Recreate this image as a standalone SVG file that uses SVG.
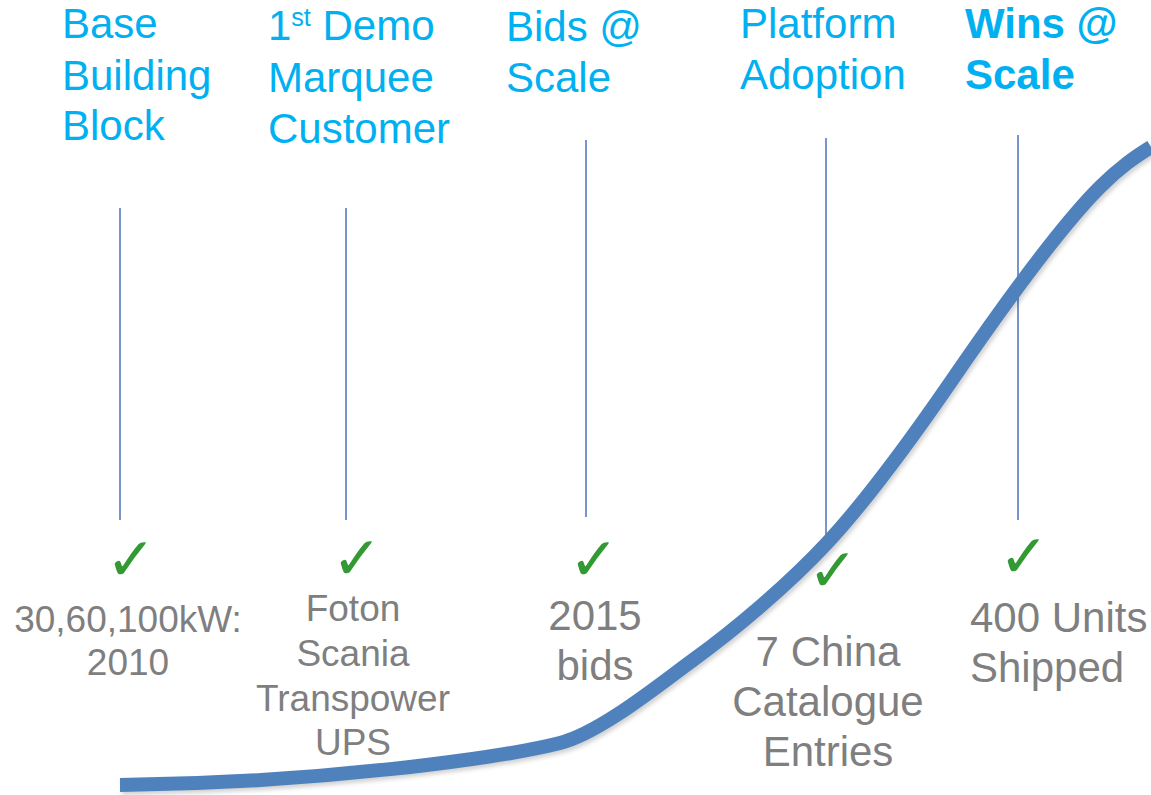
<svg xmlns="http://www.w3.org/2000/svg" width="1151" height="795" viewBox="0 0 1151 795">
<defs>
<style>
.top{font-family:"Liberation Sans",Arial,sans-serif;font-size:42px;fill:#00b0f0}
.bold{font-weight:bold}
.bot{font-family:"Liberation Sans",Arial,sans-serif;font-size:37px;fill:#7f7f7f;text-anchor:middle}
.big{font-size:42px}
.start{text-anchor:start}
.chk{font-family:"DejaVu Sans",sans-serif;font-size:60px;fill:#339933;font-weight:bold;text-anchor:middle}
.vl{stroke:#4a72b8;stroke-width:1.5;fill:none}
.curve{stroke:#4f81bd;stroke-width:14;fill:none;stroke-linecap:butt}
.shadow{stroke:#000;stroke-opacity:0.18;stroke-width:14;fill:none}
</style>
<filter id="blur" x="-5%" y="-5%" width="110%" height="110%"><feGaussianBlur stdDeviation="2"/></filter>
</defs>
<rect width="1151" height="795" fill="#fff"/>
<g id="connectors">
<line class="vl" x1="120" y1="208" x2="120" y2="520"/>
<line class="vl" x1="346" y1="208" x2="346" y2="520"/>
<line class="vl" x1="586" y1="140" x2="586" y2="517"/>
<line class="vl" x1="826" y1="138" x2="826" y2="545"/>
<line class="vl" x1="1018" y1="135" x2="1018" y2="520"/>
</g>
<g id="growth-curve">
<path class="shadow" filter="url(#blur)" transform="translate(2,3)" d="M120,785 C320,783 500,758 560,743 C600,733 660,684 693,660 C733,631 787,586 827,543 C867,500 910,441 950,383 C1000,310 1060,227 1100,187 C1120,167 1135,157 1151,147"/>
<path class="curve" d="M120,785 C320,783 500,758 560,743 C600,733 660,684 693,660 C733,631 787,586 827,543 C867,500 910,441 950,383 C1000,310 1060,227 1100,187 C1120,167 1135,157 1151,147"/>
</g>
<g id="node-base">
<text class="top" x="62" y="38">Base</text>
<text class="top" x="62" y="90">Building</text>
<text class="top" x="62" y="140">Block</text>
<text class="chk" x="131" y="580">✓</text>
<text class="bot" x="128" y="632">30,60,100kW:</text>
<text class="bot" x="128" y="675">2010</text>
</g>
<g id="node-demo">
<text class="top" x="268" y="40">1<tspan font-size="25" dy="-14">st</tspan><tspan dy="14"> Demo</tspan></text>
<text class="top" x="268" y="92">Marquee</text>
<text class="top" x="268" y="143">Customer</text>
<text class="chk" x="357" y="579">✓</text>
<text class="bot" x="353" y="621">Foton</text>
<text class="bot" x="353" y="666">Scania</text>
<text class="bot" x="353" y="711">Transpower</text>
<text class="bot" x="353" y="755">UPS</text>
</g>
<g id="node-bids">
<text class="top" x="506" y="41">Bids @</text>
<text class="top" x="506" y="92">Scale</text>
<text class="chk" x="594" y="580">✓</text>
<text class="bot big" x="595" y="630">2015</text>
<text class="bot big" x="595" y="680">bids</text>
</g>
<g id="node-platform">
<text class="top" x="740" y="38">Platform</text>
<text class="top" x="740" y="89">Adoption</text>
<text class="chk" x="833" y="591">✓</text>
<text class="bot big" x="828" y="666">7 China</text>
<text class="bot big" x="828" y="716">Catalogue</text>
<text class="bot big" x="828" y="766">Entries</text>
</g>
<g id="node-wins">
<text class="top bold" x="965" y="38">Wins @</text>
<text class="top bold" x="965" y="89">Scale</text>
<text class="chk" x="1024" y="577">✓</text>
<text class="bot big start" x="970" y="632">400 Units</text>
<text class="bot big start" x="970" y="682">Shipped</text>
</g>
</svg>
